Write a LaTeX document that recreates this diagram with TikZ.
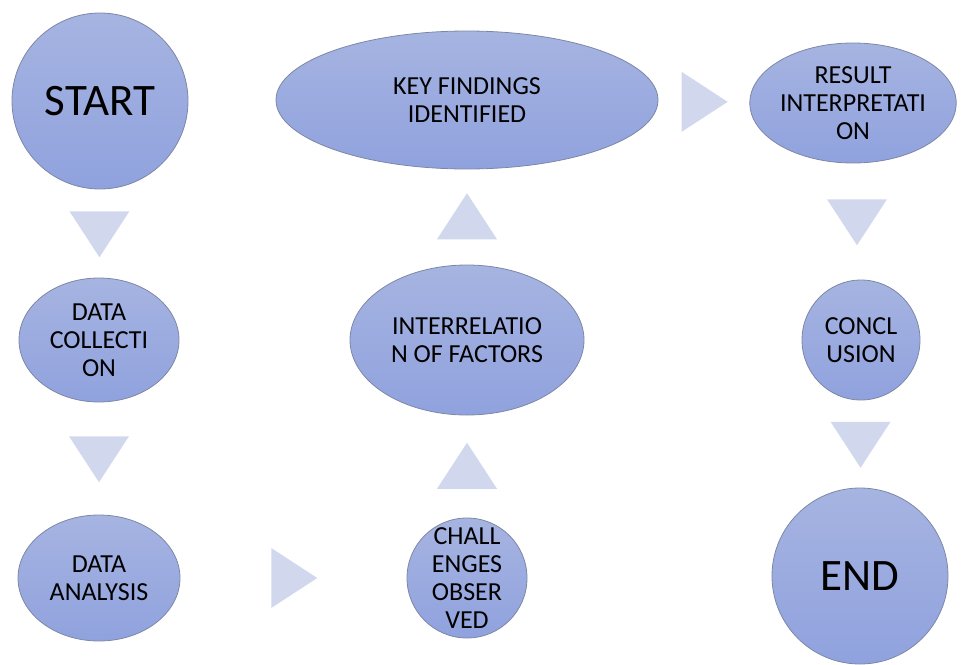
\documentclass[tikz,border=0pt]{standalone}
\usepackage{fontspec}
\setmainfont{Carlito}
\usetikzlibrary{shapes.geometric}
\definecolor{stepTop}{RGB}{166,180,225}
\definecolor{stepBot}{RGB}{144,162,222}
\definecolor{stepLine}{RGB}{125,135,165}
\definecolor{arrowFill}{RGB}{209,216,237}
\begin{document}
\begin{tikzpicture}[x=1pt,y=-1pt,
box/.style={draw=stepLine,line width=.8pt,top color=stepTop,bottom color=stepBot,inner sep=0pt,align=center,font=\fontsize{26}{28}\selectfont},
big/.style={box,circle,minimum size=176pt,font=\fontsize{45}{50}\selectfont},
oval/.style={box,ellipse},
tri/.style={isosceles triangle,isosceles triangle stretches,fill=arrowFill,minimum width=60pt,minimum height=46pt,inner sep=0pt},
right/.style={tri,xshift=-6pt},
down/.style={tri,yshift=6pt,rotate=-90},
up/.style={tri,yshift=-6pt,rotate=90}]
\useasboundingbox(0,0)rectangle(961,664);
% stages
\node[big](start)at(100,101){START};
\node[oval,minimum width=382pt,minimum height=138pt](key)at(467,100){KEY FINDINGS\\IDENTIFIED};
\node[oval,minimum width=206pt,minimum height=120pt](result)at(853,103){RESULT\\INTERPRETATI\\ON};
\node[oval,minimum width=160pt,minimum height=124pt](collect)at(99,340){DATA\\COLLECTI\\ON};
\node[oval,minimum width=234pt,minimum height=150pt](factors)at(467,340){INTERRELATIO\\N OF FACTORS};
\node[oval,minimum width=118pt,minimum height=120pt](concl)at(861,340){CONCL\\USION};
\node[oval,minimum width=162pt,minimum height=126pt](analysis)at(99,578){DATA\\ANALYSIS};
\node[box,circle,minimum size=120pt,inner sep=-16pt](chal)at(467,578){CHALL\\ENGES\\OBSER\\VED};
\node[big](end)at(860,576){END};
% arrows
\path(start)--node[down](a1){}(collect);
\path(collect)--node[down](a2){}(analysis);
\path(analysis)--node[right](a3){}(chal);
\path(chal)--node[up](a4){}(factors);
\path(factors)--node[up](a5){}(key);
\path(key)--node[right](a6){}(result);
\path(result)--node[down](a7){}(concl);
\path(concl)--node[down](a8){}(end);
\end{tikzpicture}
\end{document}
